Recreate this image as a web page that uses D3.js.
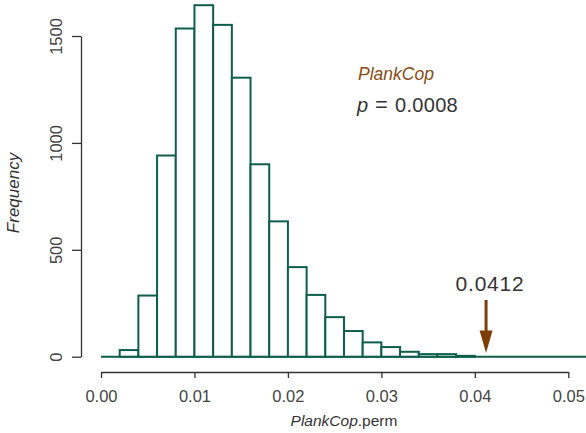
<!DOCTYPE html>
<html>
<head>
<meta charset="utf-8">
<script src="https://cdn.jsdelivr.net/npm/d3@7"></script>
<style>
  html, body { margin: 0; padding: 0; background: #fff; }
  svg { display: block; font-family: "Liberation Sans", Arial, sans-serif; }
</style>
</head>
<body>
<svg id="chart" width="586" height="433"></svg>
<script>
// Permutation null distribution of PlankCop, binned at width 0.002
const binStarts = [0.000, 0.002, 0.004, 0.006, 0.008, 0.010, 0.012, 0.014, 0.016, 0.018,
                   0.020, 0.022, 0.024, 0.026, 0.028, 0.030, 0.032, 0.034, 0.036, 0.038,
                   0.040, 0.042, 0.044, 0.046, 0.048, 0.050, 0.052, 0.054];
const counts    = [0, 31, 286, 941, 1535, 1644, 1552, 1305, 900, 633,
                   419, 289, 185, 120, 67, 45, 23, 12, 12, 4,
                   0, 0, 0, 0, 0, 0, 0, 0];
const binWidth = 0.002;
const xTicks = [0.00, 0.01, 0.02, 0.03, 0.04, 0.05];
const yTicks = [0, 500, 1000, 1500];
const observed = 0.0412;
const observedLabel = "0.0412";
const pLabel = "0.0008";
const statName = "PlankCop";

const svg = d3.select("#chart");
const green = "#0d5e4b";
const brown = "#7a3e06";
const textGray = "#444";

const x = d3.scaleLinear().domain([0, 0.05]).range([101, 568.3]);
const y = d3.scaleLinear().domain([0, 1500]).range([356.7, 36]);

const bins = binStarts.map((s, i) => ({ s, c: counts[i] }));

// baseline under all bins (empty bins show only as this line)
svg.append("line")
  .attr("x1", x(binStarts[0])).attr("x2", x(binStarts[binStarts.length - 1] + binWidth))
  .attr("y1", y(0)).attr("y2", y(0))
  .attr("stroke", green).attr("stroke-width", 2);

// histogram bars
svg.append("g").selectAll("rect")
  .data(bins.filter(d => d.c > 0))
  .join("rect")
  .attr("x", d => x(d.s))
  .attr("y", d => y(d.c))
  .attr("width", x(binWidth) - x(0))
  .attr("height", d => y(0) - y(d.c))
  .attr("fill", "#fff")
  .attr("stroke", green)
  .attr("stroke-width", 2);

// x axis
const xAxis = svg.append("g")
  .attr("transform", "translate(0,372)")
  .call(d3.axisBottom(x).tickValues(xTicks).tickFormat(d3.format(".2f")).tickSize(6).tickSizeOuter(0));
xAxis.select(".domain").attr("stroke", "#333").attr("stroke-width", 1.3);
xAxis.selectAll(".tick line").attr("stroke", "#333").attr("stroke-width", 1.3);
xAxis.selectAll("text").attr("fill", textGray).attr("font-size", 16.5).attr("dy", "1.3em")
  .attr("font-family", "Liberation Sans, Arial, sans-serif");

// y axis
const yAxis = svg.append("g")
  .attr("transform", "translate(81,0)")
  .call(d3.axisLeft(y).tickValues(yTicks).tickFormat(d3.format("d")).tickSize(9).tickSizeOuter(0));
yAxis.select(".domain").attr("stroke", "#333").attr("stroke-width", 1.3);
yAxis.selectAll(".tick line").attr("stroke", "#333").attr("stroke-width", 1.3);
yAxis.selectAll("text")
  .attr("fill", textGray).attr("font-size", 16.5)
  .attr("font-family", "Liberation Sans, Arial, sans-serif")
  .attr("x", null).attr("dy", null)
  .attr("text-anchor", "middle")
  .attr("transform", "translate(-19,0) rotate(-90)");

// axis titles
svg.append("text")
  .attr("transform", "translate(19,193) rotate(-90)")
  .attr("text-anchor", "middle")
  .attr("font-size", 17).attr("font-style", "italic").attr("fill", "#333")
  .text("Frequency");

const xt = svg.append("text")
  .attr("x", 344).attr("y", 426)
  .attr("text-anchor", "middle")
  .attr("font-size", 15.5).attr("fill", "#333");
xt.append("tspan").attr("font-style", "italic").text(statName);
xt.append("tspan").text(".perm");

// statistic name and p value
svg.append("text")
  .attr("x", 358).attr("y", 80)
  .attr("font-size", 17.5).attr("font-style", "italic").attr("fill", "#8a4b12")
  .text(statName);
const pt = svg.append("text")
  .attr("y", 112)
  .attr("font-size", 20).attr("fill", "#333");
pt.append("tspan").attr("x", 357).attr("font-style", "italic").text("p");
pt.append("tspan").attr("x", 375).attr("font-size", 22).text("=");
pt.append("tspan").attr("x", 395).attr("letter-spacing", 0.3).text(pLabel);

// observed value arrow
const ax = x(observed);
svg.append("line")
  .attr("x1", ax).attr("x2", ax)
  .attr("y1", 300).attr("y2", 332)
  .attr("stroke", brown).attr("stroke-width", 3);
svg.append("path")
  .attr("d", `M${ax - 6.5},330.5 L${ax + 6.5},330.5 L${ax},353 Z`)
  .attr("fill", brown);
svg.append("text")
  .attr("x", ax + 4).attr("y", 291)
  .attr("text-anchor", "middle")
  .attr("font-size", 21).attr("letter-spacing", 0.8).attr("fill", "#333")
  .text(observedLabel);
</script>
</body>
</html>
